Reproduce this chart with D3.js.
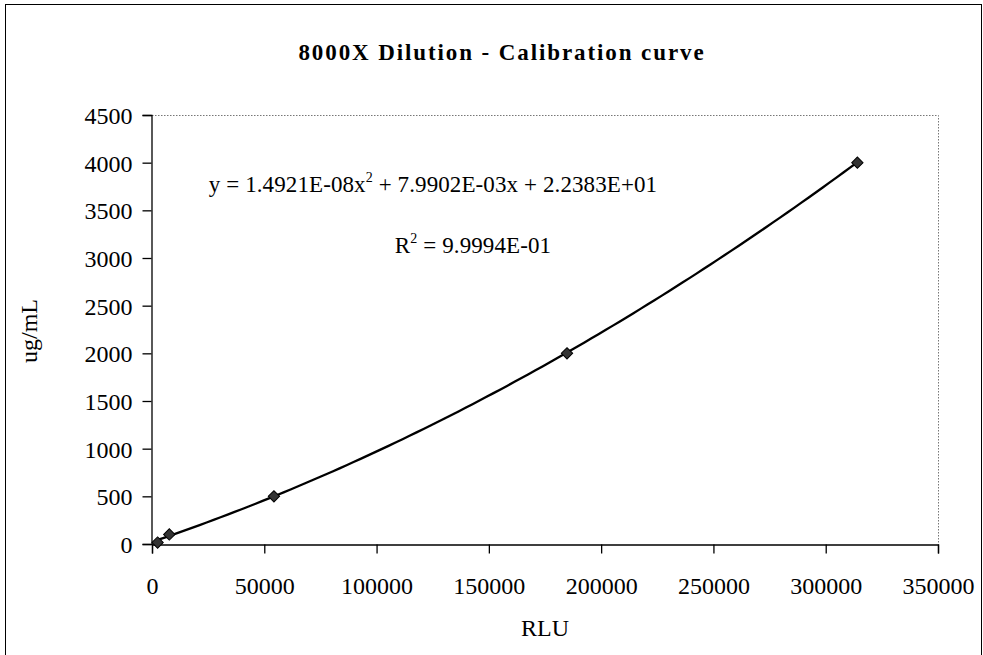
<!DOCTYPE html>
<html>
<head>
<meta charset="utf-8">
<script src="https://cdn.jsdelivr.net/npm/d3@7"></script>
<style>
  html, body { margin: 0; padding: 0; background: #fff; }
  svg { display: block; }
  text { font-family: "Liberation Serif", "Times New Roman", serif; fill: #000; }
</style>
</head>
<body>
<svg id="chart" width="983" height="655"></svg>
<script>
const WIDTH = 983;
const HEIGHT = 655;

// measured standards
const rluValues = [2500, 7700, 54300, 184800, 314100];
const concValues = [15, 100, 500, 2000, 4000];

// trendline coefficients shown on the chart
const coefA = 1.4921e-8;
const coefB = 7.9902e-3;
const coefC = 2.2383e+1;

const xTicks = [0, 50000, 100000, 150000, 200000, 250000, 300000, 350000];
const yTicks = [0, 500, 1000, 1500, 2000, 2500, 3000, 3500, 4000, 4500];

const margin = { left: 152, top: 115, right: 983 - 938, bottom: 655 - 544 };

const svg = d3.select("#chart");

// outer chart border
svg.append("rect")
  .attr("x", 5.5).attr("y", 4.5)
  .attr("width", 976).attr("height", 660)
  .attr("fill", "none").attr("stroke", "#000").attr("stroke-width", 1);

svg.append("text")
  .attr("x", 502).attr("y", 60)
  .attr("text-anchor", "middle")
  .attr("font-weight", "bold")
  .attr("font-size", 23)
  .attr("letter-spacing", 1.9)
  .text("8000X Dilution - Calibration curve");

const x = d3.scaleLinear().domain([0, 350000]).range([margin.left, WIDTH - margin.right]);
const y = d3.scaleLinear().domain([0, 4500]).range([HEIGHT - margin.bottom, margin.top]);

// plot area frame (top/right dotted)
svg.append("path")
  .attr("d", `M${x(0)},${y(4500) + 0.5}H${x(350000) + 0.5}V${y(0)}`)
  .attr("fill", "none")
  .attr("stroke", "#777")
  .attr("stroke-dasharray", "1.5,1.5");

const xAxis = svg.append("g")
  .attr("transform", `translate(0,${y(0) + 0.5})`)
  .call(d3.axisBottom(x).tickValues(xTicks).tickSize(9).tickPadding(23).tickFormat(d3.format("d")));

const yAxis = svg.append("g")
  .attr("transform", `translate(${x(0) - 0.5},0)`)
  .call(d3.axisLeft(y).tickValues(yTicks).tickSize(9).tickPadding(10).tickFormat(d3.format("d")));

[xAxis, yAxis].forEach((g) => {
  g.select(".domain").attr("stroke", "#000").attr("stroke-width", 1.3);
  g.selectAll(".tick line").attr("stroke", "#000").attr("stroke-width", 1.3);
  g.selectAll(".tick text")
    .attr("font-family", "'Liberation Serif', 'Times New Roman', serif")
    .attr("font-size", 24)
    .attr("fill", "#000");
});
yAxis.selectAll(".tick text").attr("dy", "0.36em");

// trendline drawn from the fitted polynomial over the data range
const fit = (v) => coefA * v * v + coefB * v + coefC;
const xMin = d3.min(rluValues);
const xMax = d3.max(rluValues);
const curveXs = d3.range(0, 101).map((i) => xMin + (xMax - xMin) * i / 100);

svg.append("path")
  .datum(curveXs)
  .attr("fill", "none")
  .attr("stroke", "#000")
  .attr("stroke-width", 2.3)
  .attr("d", d3.line().x((d) => x(d)).y((d) => y(fit(d))));

svg.append("g")
  .selectAll("path")
  .data(rluValues.map((v, i) => [v, concValues[i]]))
  .join("path")
  .attr("transform", (d) => `translate(${x(d[0])},${y(d[1])}) rotate(45)`)
  .attr("d", d3.symbol(d3.symbolSquare, 64))
  .attr("fill", "#333")
  .attr("stroke", "#000")
  .attr("stroke-width", 1);

// equation labels
const eq = svg.append("text")
  .attr("x", 433).attr("y", 192)
  .attr("text-anchor", "middle")
  .attr("font-size", 23)
  .attr("letter-spacing", 0.1);
eq.append("tspan").text("y = 1.4921E-08x");
eq.append("tspan").attr("dy", -10).attr("font-size", 14).text("2");
eq.append("tspan").attr("dy", 10).text(" + 7.9902E-03x + 2.2383E+01");

const r2 = svg.append("text")
  .attr("x", 473).attr("y", 253)
  .attr("text-anchor", "middle")
  .attr("font-size", 23)
  .attr("letter-spacing", 0.1);
r2.append("tspan").text("R");
r2.append("tspan").attr("dy", -10).attr("font-size", 14).text("2");
r2.append("tspan").attr("dy", 10).text(" = 9.9994E-01");

// axis titles
svg.append("text")
  .attr("transform", "translate(37,331) rotate(-90)")
  .attr("text-anchor", "middle")
  .attr("font-size", 24)
  .text("ug/mL");

svg.append("text")
  .attr("x", 545).attr("y", 636)
  .attr("text-anchor", "middle")
  .attr("font-size", 24)
  .text("RLU");
</script>
</body>
</html>
